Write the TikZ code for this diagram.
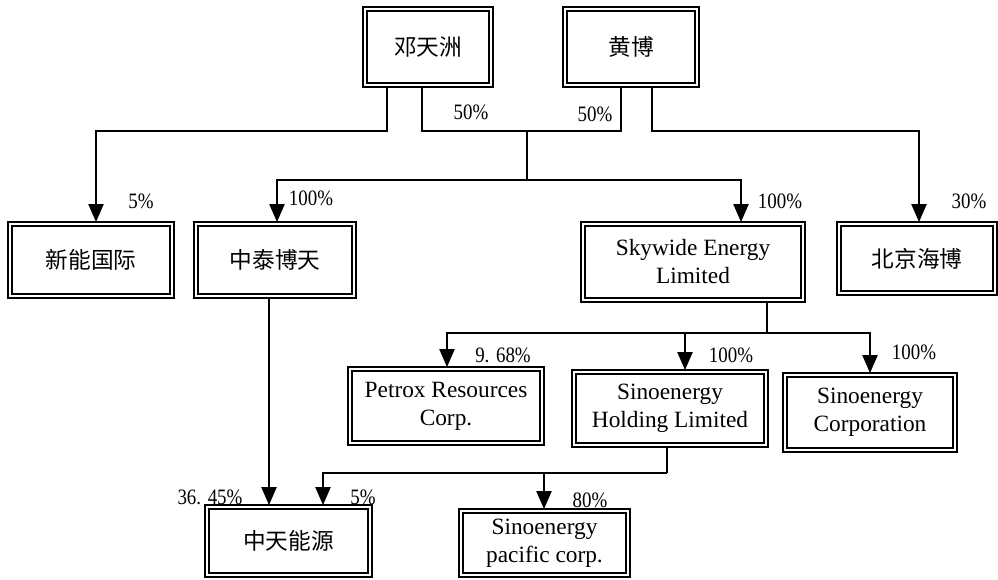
\documentclass[tikz,border=0pt]{standalone}
\usepackage{fontspec}
\setmainfont{Liberation Serif}
\newfontfamily\cjk{Noto Sans CJK SC}
\newfontfamily\lblfont[FakeStretch=0.86]{Liberation Serif}
\usetikzlibrary{arrows.meta}
\begin{document}
\begin{tikzpicture}[x=0.75pt,y=-0.75pt,
  box/.style={draw, line width=0.8pt, align=center, inner sep=0pt, outer sep=0pt,
    font=\fontsize{17.5pt}{21pt}\selectfont},
  cbox/.style={box, font=\fontsize{17pt}{21pt}\selectfont\cjk},
  pct/.style={inner sep=0pt, font=\fontsize{16.5pt}{18pt}\selectfont\lblfont},
  conn/.style={line width=1pt},
  arr/.style={conn, -{Triangle[length=13.5pt,width=11.5pt]}}]
\useasboundingbox (0,0) rectangle (998,579);

% boxes
\node[cbox, minimum width=130*0.75pt, minimum height=80*0.75pt] (A) at (428,47) {邓天洲};
\node[cbox, minimum width=136*0.75pt, minimum height=80*0.75pt] (B) at (631,47) {黄博};
\node[cbox, minimum width=166*0.75pt, minimum height=76*0.75pt] (C) at (91,260) {新能国际};
\node[cbox, minimum width=162*0.75pt, minimum height=76*0.75pt] (D) at (275,260) {中泰博天};
\node[box, minimum width=224*0.75pt, minimum height=80*0.75pt] (E) at (693,262) {Skywide Energy\\Limited};
\node[cbox, minimum width=160*0.75pt, minimum height=73*0.75pt] (F) at (917,258.5) {北京海博};
\node[box, minimum width=196*0.75pt, minimum height=78*0.75pt] (G) at (446,406) {Petrox Resources\\Corp.};
\node[box, minimum width=196*0.75pt, minimum height=77*0.75pt] (H) at (670,408.5) {Sinoenergy\\Holding Limited};
\node[box, minimum width=174*0.75pt, minimum height=79*0.75pt] (I) at (870,412.5) {Sinoenergy\\Corporation};
\node[cbox, minimum width=167*0.75pt, minimum height=72*0.75pt] (J) at (288.5,541) {中天能源};
\node[box, minimum width=171*0.75pt, minimum height=68*0.75pt] (K) at (544.5,543) {Sinoenergy\\pacific corp.};

\foreach \n in {A,B,C,D,E,F,G,H,I,J,K}
  \draw[line width=1.8pt] ([shift={(3.2pt,-3.2pt)}]\n.north west) rectangle ([shift={(-3.2pt,3.2pt)}]\n.south east);

% bend points
\coordinate (a1) at (387,131);
\coordinate (a2) at (422,131);
\coordinate (b1) at (621,131);
\coordinate (b2) at (652,131);
\coordinate (m1) at (527,131);
\coordinate (m2) at (527,180);
\coordinate (e1) at (767,333);
\coordinate (h1) at (667,473);

% connectors
\draw[arr] (A.south -| a1) -- (a1) -| (C.north -| 96,0);
\draw[conn] (A.south -| a2) -- (a2) -- (b1) -- (B.south -| b1);
\draw[conn] (m1) -- (m2);
\draw[arr] (m2) -| (D.north -| 277,0);
\draw[arr] (m2) -| (E.north -| 741,0);
\draw[arr] (B.south -| b2) -- (b2) -| (F.north -| 919,0);
\draw[arr] (D.south -| 269,0) -- (J.north -| 269,0);
\draw[conn] (E.south -| e1) -- (e1);
\draw[arr] (e1) -| (G.north -| 447,0);
\draw[arr] (e1) -| (H.north -| 685,0);
\draw[arr] (e1) -| (I.north -| 870,0);
\draw[conn] (H.south -| h1) -- (h1);
\draw[arr] (h1) -| (J.north -| 323,0);
\draw[arr] (h1) -| (K.north -| 544,0);

% labels
\node[pct] (l1) at (471,112) {50\%};
\node[pct] (l2) at (595,114) {50\%};
\node[pct] (l3) at (141,201) {5\%};
\node[pct] (l4) at (311,198) {100\%};
\node[pct] (l5) at (780,201) {100\%};
\node[pct] (l6) at (969,201) {30\%};
\node[pct] (l7) at (503,355) {9.\hspace{0.3em}68\%};
\node[pct] (l8) at (731,355) {100\%};
\node[pct] (l9) at (914,352) {100\%};
\node[pct] (l10) at (210,497) {36.\hspace{0.3em}45\%};
\node[pct] (l11) at (363,497) {5\%};
\node[pct] (l12) at (590,500) {80\%};
\end{tikzpicture}
\end{document}
